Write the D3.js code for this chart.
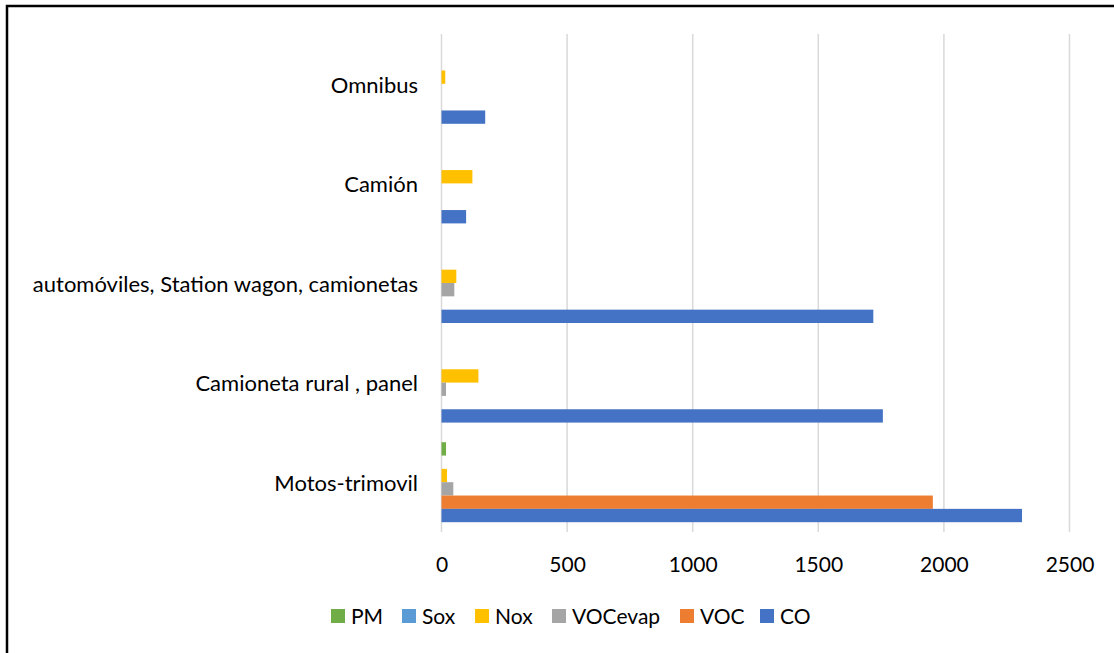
<!DOCTYPE html>
<html><head><meta charset="utf-8">
<script src="https://cdn.jsdelivr.net/npm/d3@7"></script>
<style>
html,body{margin:0;padding:0;background:#fff;}
svg{display:block;font-family:Lato, "Open Sans", sans-serif;}
</style></head>
<body>
<svg id="chart" width="1114" height="653"></svg>
<script>
// Categories (bottom to top as displayed)
const categories = ["Motos-trimovil", "Camioneta rural , panel", "automóviles, Station wagon, camionetas", "Camión", "Omnibus"];
// Series (legend order)
const seriesNames = ["PM", "Sox", "Nox", "VOCevap", "VOC", "CO"];
const seriesColors = ["#70AD47", "#5B9BD5", "#FFC000", "#A5A5A5", "#ED7D31", "#4472C4"];
// Values per series, aligned with categories
const PM      = [18, 0, 0, 0, 0];
const Sox     = [0, 0, 0, 0, 0];
const Nox     = [22, 147, 59, 123, 15];
const VOCevap = [47, 18, 51, 0, 0];
const VOC     = [1956, 0, 0, 0, 0];
const CO      = [2311, 1757, 1719, 98, 174];
const xTicks  = [0, 500, 1000, 1500, 2000, 2500];

const seriesValues = [PM, Sox, Nox, VOCevap, VOC, CO];

const svg = d3.select("#chart");

// outer border (top & left visible)
svg.append("path").attr("d", "M7,653 V6 H1114").attr("fill", "none")
  .attr("stroke", "#000").attr("stroke-width", 2.5);

const pL = 441.5, pR = 1069.5, pT = 34, pB = 532;
const x = d3.scaleLinear().domain([0, 2500]).range([pL, pR]);
const y = d3.scaleBand().domain(categories.slice().reverse()).range([pT, pB]).paddingInner(0.197).paddingOuter(0.0985);
const ySub = d3.scaleBand().domain(seriesNames).range([0, y.bandwidth()]);

// gridlines
svg.append("g").selectAll("line").data(xTicks).join("line")
  .attr("x1", d => x(d)).attr("x2", d => x(d))
  .attr("y1", pT).attr("y2", pB)
  .attr("stroke", "#D9D9D9").attr("stroke-width", 1.5);

// bars
const groups = svg.append("g").selectAll("g").data(categories).join("g")
  .attr("transform", c => `translate(0,${y(c)})`);
groups.selectAll("rect").data((c, i) => seriesNames.map((s, j) => ({s, j, v: seriesValues[j][i]})))
  .join("rect")
  .attr("x", x(0))
  .attr("y", d => ySub(d.s))
  .attr("width", d => x(d.v) - x(0))
  .attr("height", ySub.bandwidth())
  .attr("fill", d => seriesColors[d.j]);

// x axis labels
const xAxis = d3.axisBottom(x).tickValues(xTicks).tickSize(0).tickPadding(0).tickFormat(d3.format("d"));
const gx = svg.append("g").attr("transform", `translate(0,${pB})`).call(xAxis);
gx.select(".domain").remove();
gx.selectAll("text").attr("font-size", 21).attr("fill", "#000").attr("font-family", "Lato, sans-serif")
  .attr("dy", 0).attr("y", 40);

// y axis labels
const yAxis = d3.axisLeft(y).tickSize(0).tickPadding(0);
const gy = svg.append("g").attr("transform", `translate(${418},0)`).call(yAxis);
gy.select(".domain").remove();
gy.selectAll("text").attr("font-size", 22).attr("fill", "#000").attr("font-family", "Lato, sans-serif")
  .attr("dy", "0.4em");

// legend
const legendX = [331, 402, 475, 552, 680, 760];
const lg = svg.append("g").selectAll("g").data(seriesNames).join("g")
  .attr("transform", (d, i) => `translate(${legendX[i]},609)`);
lg.append("rect").attr("width", 14).attr("height", 14).attr("fill", (d, i) => seriesColors[i]);
lg.append("text").attr("x", 20).attr("y", 15)
  .attr("font-size", 21).attr("fill", "#000").text(d => d);
</script>
</body></html>
